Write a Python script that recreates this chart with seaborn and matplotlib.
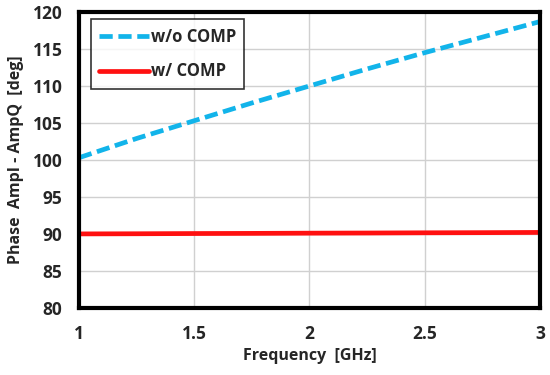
import matplotlib
matplotlib.use("Agg")
import matplotlib.pyplot as plt
import seaborn as sns
import pandas as pd

# data
freq = [1.0, 1.25, 1.5, 1.75, 2.0, 2.25, 2.5, 2.75, 3.0]
wo_comp = [100.3, 102.9, 105.3, 107.7, 110.0, 112.3, 114.5, 116.6, 118.7]
w_comp = [90.0, 90.02, 90.05, 90.07, 90.1, 90.12, 90.15, 90.17, 90.2]

df = pd.DataFrame({
    'freq': freq * 2,
    'value': wo_comp + w_comp,
    'series': ['w/o COMP'] * len(freq) + ['w/ COMP'] * len(freq),
})

sns.set_style('white')
plt.rcParams['font.family'] = ['Open Sans', 'DejaVu Sans']
plt.rcParams['font.weight'] = 'bold'

fig = plt.figure(figsize=(5.5, 3.75), dpi=100)
ax = fig.add_axes([0.1436, 0.179, 0.838, 0.789])

palette = {'w/o COMP': '#12b4ea', 'w/ COMP': '#ff1010'}
sns.lineplot(data=df, x='freq', y='value', hue='series', style='series',
             dashes={'w/o COMP': (2.8, 1.2), 'w/ COMP': ''},
             palette=palette, linewidth=3.4, ax=ax)

ax.set_xlim(1, 3)
ax.set_ylim(80, 120)
ax.set_xticks([1, 1.5, 2, 2.5, 3])
ax.set_xticklabels(['1', '1.5', '2', '2.5', '3'])
ax.set_yticks(range(80, 121, 5))
ax.grid(True, color='#d0d0d0', linewidth=1)
ax.tick_params(direction='in', length=4, width=2, labelsize=12.5, pad=12)
for lbl in ax.get_xticklabels() + ax.get_yticklabels():
    lbl.set_fontweight('bold')
for s in ax.spines.values():
    s.set_linewidth(3)
    s.set_color('black')

ax.set_xlabel('Frequency  [GHz]', fontsize=11.5, fontweight='bold', labelpad=4)
ax.set_ylabel('Phase  AmpI - AmpQ  [deg]', fontsize=11.5, fontweight='bold', labelpad=6)

leg = ax.legend(loc='upper left', fontsize=12, frameon=True, fancybox=False,
                handlelength=3.0, borderpad=0.5, labelspacing=1.0,
                handletextpad=0.1, borderaxespad=0, bbox_to_anchor=(0.025, 0.975))
leg.get_frame().set_edgecolor('black')
leg.get_frame().set_linewidth(1.2)
for t in leg.get_texts():
    t.set_fontweight('bold')

fig.savefig('out.png', dpi=100)
